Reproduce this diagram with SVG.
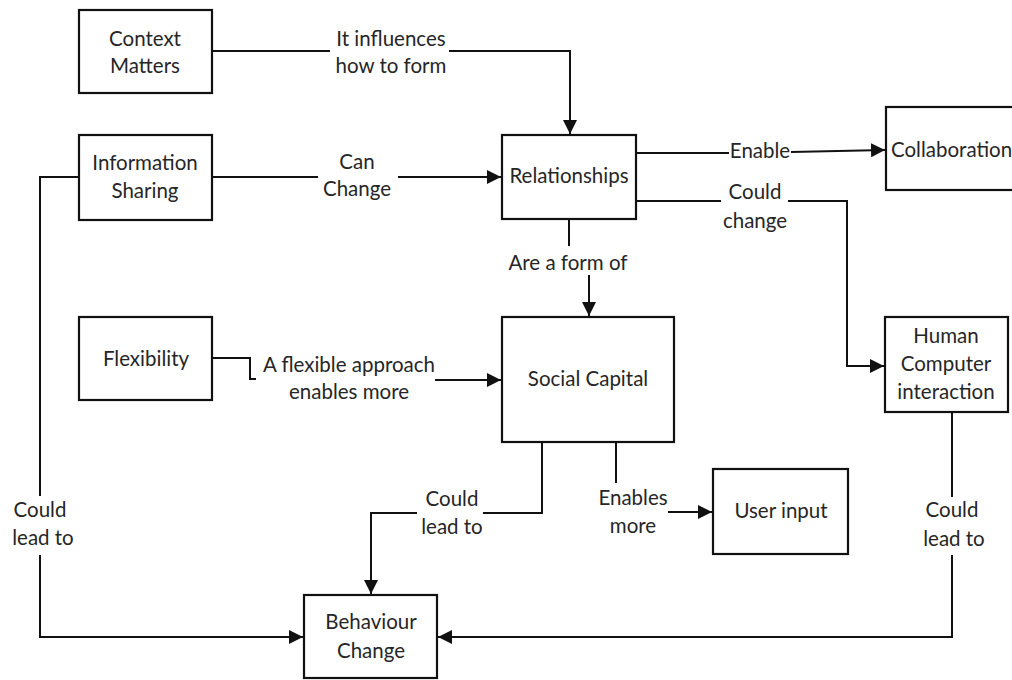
<svg xmlns="http://www.w3.org/2000/svg" width="1012" height="680" viewBox="0 0 1012 680">
<style>
.box{fill:#fff;stroke:#111;stroke-width:2.2}
.t{font-family:Lato,"Noto Sans",sans-serif;font-size:20.5px;fill:#262626;text-anchor:middle}
.c{fill:none;stroke:#111;stroke-width:2}
</style>
<defs>
<marker id="ah" viewBox="0 0 10 10" refX="10" refY="5" markerWidth="14" markerHeight="14" markerUnits="userSpaceOnUse" orient="auto">
<path d="M0,0 L10,5 L0,10 Z" fill="#111"/>
</marker>
</defs>
<rect width="1012" height="680" fill="#fff"/>
<g id="connectors">
<polyline class="c" points="212,51 330,51"/>
<polyline class="c" points="449,51 570,51 570,134" marker-end="url(#ah)"/>
<polyline class="c" points="212,177 318,177"/>
<polyline class="c" points="398,177 501,177" marker-end="url(#ah)"/>
<polyline class="c" points="636,153 729,153"/>
<polyline class="c" points="791,152 885,150" marker-end="url(#ah)"/>
<polyline class="c" points="636,201 721,201"/>
<polyline class="c" points="788,201 847,201 847,366 884,366" marker-end="url(#ah)"/>
<polyline class="c" points="569,219 569,246"/>
<polyline class="c" points="589,275 589,316" marker-end="url(#ah)"/>
<polyline class="c" points="212,358 250,358 250,379 256,379"/>
<polyline class="c" points="435,380 501,380" marker-end="url(#ah)"/>
<polyline class="c" points="79,177 40,177 40,496"/>
<polyline class="c" points="40,555 40,637 303,637" marker-end="url(#ah)"/>
<polyline class="c" points="542,442 542,513 483,513"/>
<polyline class="c" points="417,513 371,513 371,594" marker-end="url(#ah)"/>
<polyline class="c" points="616,442 616,483"/>
<polyline class="c" points="668,512 712,512" marker-end="url(#ah)"/>
<polyline class="c" points="952,412 952,497"/>
<polyline class="c" points="952,555 952,637 438,637" marker-end="url(#ah)"/>
</g>
<g id="labels">
<text class="t" x="391" y="46">It influences</text>
<text class="t" x="391" y="73">how to form</text>
<text class="t" x="357" y="169">Can</text>
<text class="t" x="357" y="196">Change</text>
<text class="t" x="760" y="158">Enable</text>
<text class="t" x="755" y="199">Could</text>
<text class="t" x="755" y="228">change</text>
<text class="t" x="568" y="270">Are a form of</text>
<text class="t" x="349" y="372">A flexible approach</text>
<text class="t" x="349" y="399">enables more</text>
<text class="t" x="40" y="517">Could</text>
<text class="t" x="43" y="545">lead to</text>
<text class="t" x="452" y="506">Could</text>
<text class="t" x="452" y="534">lead to</text>
<text class="t" x="633" y="505">Enables</text>
<text class="t" x="633" y="533">more</text>
<text class="t" x="952" y="517">Could</text>
<text class="t" x="954" y="546">lead to</text>
</g>
<g id="context-matters">
<rect class="box" x="79" y="10" width="133" height="83"/>
<text class="t" x="145" y="46">Context</text>
<text class="t" x="145" y="73">Matters</text>
</g>
<g id="information-sharing">
<rect class="box" x="79" y="135" width="133" height="85"/>
<text class="t" x="145" y="170">Information</text>
<text class="t" x="145" y="198">Sharing</text>
</g>
<g id="relationships">
<rect class="box" x="502" y="135" width="134" height="84"/>
<text class="t" x="569" y="183">Relationships</text>
</g>
<g id="collaboration">
<rect class="box" x="886" y="107" width="140" height="83"/>
<text class="t" x="891" y="157" style="text-anchor:start">Collaboration</text>
</g>
<g id="human-computer-interaction">
<rect class="box" x="885" y="317" width="123" height="95"/>
<text class="t" x="946" y="343">Human</text>
<text class="t" x="946" y="371">Computer</text>
<text class="t" x="946" y="399">interaction</text>
</g>
<g id="flexibility">
<rect class="box" x="79" y="317" width="133" height="83"/>
<text class="t" x="146" y="366">Flexibility</text>
</g>
<g id="social-capital">
<rect class="box" x="502" y="317" width="172" height="125"/>
<text class="t" x="588" y="386">Social Capital</text>
</g>
<g id="user-input">
<rect class="box" x="713" y="469" width="135" height="85"/>
<text class="t" x="781" y="518">User input</text>
</g>
<g id="behaviour-change">
<rect class="box" x="304" y="595" width="133" height="83"/>
<text class="t" x="371" y="629">Behaviour</text>
<text class="t" x="371" y="658">Change</text>
</g>
</svg>
